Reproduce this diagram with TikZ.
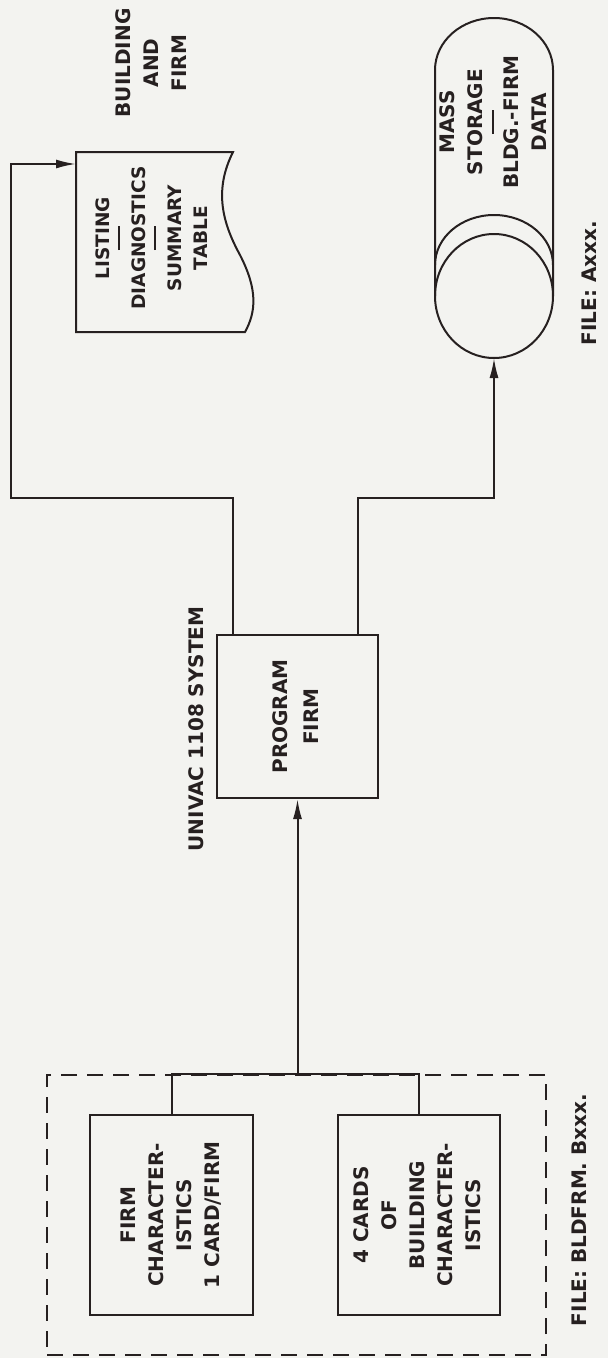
\documentclass[tikz,border=0pt]{standalone}
\usepackage{fontspec}
\setmainfont{DejaVu Sans}
\usepackage{graphicx}
\usetikzlibrary{arrows.meta}
\definecolor{paper}{RGB}{243,243,240}
\definecolor{ink}{RGB}{38,32,32}
\newcommand{\vtext}[1]{\rotatebox{90}{\begin{tabular}{@{}c@{}}#1\end{tabular}}}
\newcommand{\sepbar}{\rule{24pt}{2pt}}

\begin{document}
\begin{tikzpicture}[x=1pt, y=-1pt, >={Latex[length=20pt,width=9pt]},
  every node/.style={font=\fontsize{20}{28}\selectfont\bfseries, text=ink, inner sep=0pt},
  wire/.style={draw=ink, line width=2pt},
  box/.style={wire, rectangle},
  cardbox/.style={wire, dash pattern=on 16pt off 10pt}]
  \fill[paper] (0,0) rectangle (608,1358);
  \useasboundingbox (0,0) rectangle (608,1358);

  % input cards
  \node[cardbox, minimum width=499pt, minimum height=280pt] (cards) at (296.5,1215) {};
  \node[box, minimum width=163pt, minimum height=200pt] (firm) at (171.5,1215) {\vtext{FIRM\\CHARACTER-\\ISTICS\\1 CARD/FIRM}};
  \node[box, minimum width=162pt, minimum height=200pt] (bldg) at (419,1215) {\vtext{4 CARDS\\OF\\BUILDING\\CHARACTER-\\ISTICS}};
  \node (fileB) at (581,1210) {\vtext{FILE: BLDFRM. Bxxx.}};

  % program
  \node[box, minimum width=161pt, minimum height=163pt] (prog) at (297.5,716.5) {\vtext{PROGRAM\\[3pt]FIRM}};
  \node (sys) at (198,729) {\vtext{UNIVAC 1108 SYSTEM}};

  % listing
  \draw[wire] (233,152) -- (76,152) -- (76,332) -- (245,332)
    .. controls (256,312) and (258,290) .. (240,255)
    .. controls (222,222) and (214,190) .. cycle;
  \node[font=\fontsize{18.5}{28}\selectfont\bfseries] (list) at (153,238)
    {\vtext{LISTING\\[-18pt]\sepbar\\[-2pt]DIAGNOSTICS\\[-18pt]\sepbar\\[-2pt]SUMMARY\\[-2pt]TABLE}};
  \node (title) at (153,63) {\vtext{BUILDING\\AND\\FIRM}};

  % mass storage
  \draw[wire] (435,296) -- (435,70) arc[start angle=180, end angle=360, x radius=59, y radius=52]
    -- (553,296) arc[start angle=0, end angle=180, x radius=59, y radius=62] -- cycle;
  \draw[wire] (435,296) arc[start angle=180, end angle=360, x radius=59, y radius=62];
  \draw[wire] (435,265) arc[start angle=180, end angle=360, x radius=59, y radius=50];
  \node (store) at (495,122) {\vtext{MASS\\STORAGE\\[-17pt]\sepbar\\[-3pt]BLDG.-FIRM\\DATA}};
  \node (fileA) at (591,283) {\vtext{FILE: Axxx.}};

  \coordinate (forkup) at (233,498);
  \coordinate (forkdown) at (358,498);
  \coordinate (bend) at (11,498);
  \coordinate (listin) at (76,164);
  \coordinate (storein) at (494,358);

  \draw[wire] (firm.north) -- (firm.north |- cards.north) -- (bldg.north |- cards.north) -- (bldg.north);
  \draw[wire,->] (prog.south |- cards.north) -- (prog.south);
  \draw[wire,->] (forkup |- prog.north) -- (forkup) -- (bend) |- (listin);
  \draw[wire,->] (forkdown |- prog.north) -- (forkdown) -| (storein);
\end{tikzpicture}
\end{document}
